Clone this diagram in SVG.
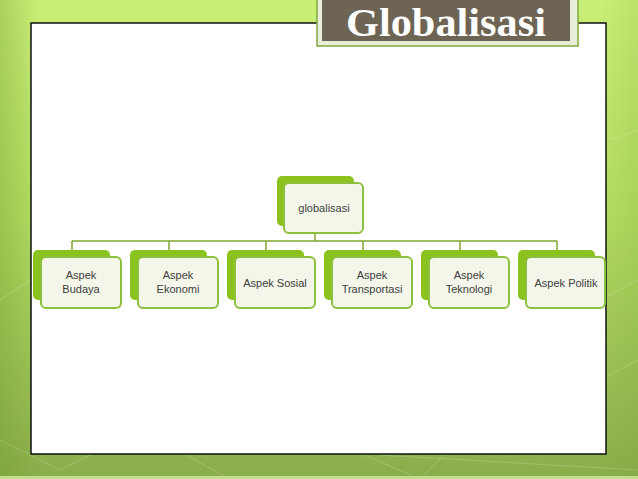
<svg xmlns="http://www.w3.org/2000/svg" width="638" height="479" viewBox="0 0 638 479">
<defs>
<linearGradient id="bg" x1="0" y1="0" x2="0" y2="1">
<stop offset="0" stop-color="#c9ef77"/>
<stop offset="0.45" stop-color="#b3dc62"/>
<stop offset="1" stop-color="#8aad4c"/>
</linearGradient>
<linearGradient id="side" x1="0" y1="0" x2="1" y2="0">
<stop offset="0" stop-color="#6f9a2c" stop-opacity="0.35"/>
<stop offset="0.06" stop-color="#6f9a2c" stop-opacity="0"/>
<stop offset="0.94" stop-color="#6f9a2c" stop-opacity="0"/>
<stop offset="1" stop-color="#6f9a2c" stop-opacity="0.15"/>
</linearGradient>
<style>
.back{fill:#8cc21e;}
.front{fill:#f3f6e9;stroke:#8dc03c;stroke-width:2;}
.lbl{font-family:"Liberation Sans","DejaVu Sans",sans-serif;font-size:11px;fill:#404040;text-anchor:middle;}
.conn{fill:none;stroke:#7fa62e;stroke-width:1.5;}
</style>
</defs>
<rect x="0" y="0" width="638" height="479" fill="url(#bg)"/>
<rect x="0" y="0" width="638" height="479" fill="url(#side)"/>
<g stroke="#ffffff" stroke-opacity="0.18" stroke-width="1" fill="none">
<path d="M0 440 L60 470 L140 430 L230 479"/>
<path d="M330 440 L420 479 L480 420"/>
<path d="M380 455 L638 470"/>
<path d="M600 300 L638 280"/>
<path d="M600 380 L638 360"/>
<path d="M0 300 L30 280"/>
<path d="M610 140 L638 130"/>
</g>
<rect x="0" y="476" width="638" height="3" fill="#c4de8e"/>
<rect x="31" y="23" width="575" height="431" fill="#ffffff" stroke="#111111" stroke-width="1.5"/>
<g id="title">
<rect x="317" y="-2" width="261" height="48" fill="#e9eedb" stroke="#7faa3c" stroke-width="1.5"/>
<rect x="322" y="-2" width="248" height="43" fill="#6e6454"/>
<text x="446" y="36" font-family="Liberation Serif,serif" font-weight="bold" font-size="40" fill="#ffffff" text-anchor="middle" textLength="200" lengthAdjust="spacingAndGlyphs">Globalisasi</text>
</g>
<g id="connectors">
<path class="conn" d="M315 233 V241"/>
<path class="conn" d="M72 241 H557"/>
<path class="conn" d="M72 241 V250 M169 241 V250 M266 241 V250 M363 241 V250 M460 241 V250 M557 241 V250"/>
</g>
<g id="root">
<rect class="back" x="277" y="176" width="77" height="50" rx="5"/>
<rect class="front" x="284" y="183" width="79" height="50" rx="5"/>
<text class="lbl" x="324" y="212">globalisasi</text>
</g>
<g id="budaya">
<rect class="back" x="33" y="250" width="77" height="50" rx="5"/>
<rect class="front" x="41" y="257" width="80" height="51" rx="5"/>
<text class="lbl" x="81" y="279">Aspek</text>
<text class="lbl" x="81" y="293">Budaya</text>
</g>
<g id="ekonomi">
<rect class="back" x="130" y="250" width="77" height="50" rx="5"/>
<rect class="front" x="138" y="257" width="80" height="51" rx="5"/>
<text class="lbl" x="178" y="279">Aspek</text>
<text class="lbl" x="178" y="293">Ekonomi</text>
</g>
<g id="sosial">
<rect class="back" x="227" y="250" width="77" height="50" rx="5"/>
<rect class="front" x="235" y="257" width="80" height="51" rx="5"/>
<text class="lbl" x="275" y="287">Aspek Sosial</text>
</g>
<g id="transportasi">
<rect class="back" x="324" y="250" width="77" height="50" rx="5"/>
<rect class="front" x="332" y="257" width="80" height="51" rx="5"/>
<text class="lbl" x="372" y="279">Aspek</text>
<text class="lbl" x="372" y="293">Transportasi</text>
</g>
<g id="teknologi">
<rect class="back" x="421" y="250" width="77" height="50" rx="5"/>
<rect class="front" x="429" y="257" width="80" height="51" rx="5"/>
<text class="lbl" x="469" y="279">Aspek</text>
<text class="lbl" x="469" y="293">Teknologi</text>
</g>
<g id="politik">
<rect class="back" x="518" y="250" width="77" height="50" rx="5"/>
<rect class="front" x="526" y="257" width="79" height="51" rx="5"/>
<text class="lbl" x="566" y="287">Aspek Politik</text>
</g>
</svg>
